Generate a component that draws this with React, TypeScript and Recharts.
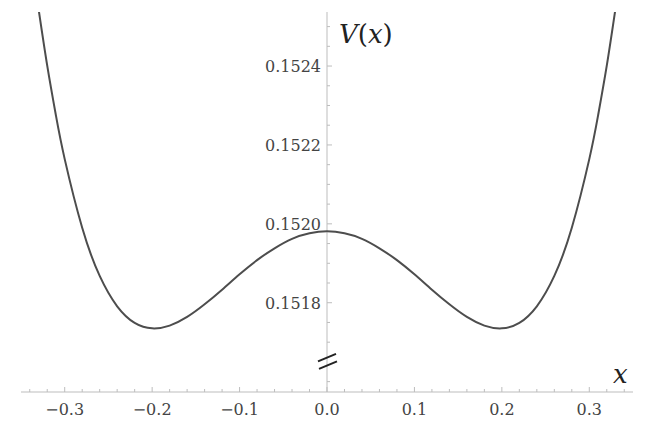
import { LineChart, Line, XAxis, YAxis, ReferenceLine, ReferenceDot } from "recharts";

// curve V(x)
const xPoints = [
  -0.33, -0.32, -0.31, -0.3, -0.28, -0.26, -0.24, -0.22, -0.2, -0.18, -0.16,
  -0.14, -0.12, -0.1, -0.08, -0.06, -0.04, -0.02, 0, 0.02, 0.04, 0.06, 0.08,
  0.1, 0.12, 0.14, 0.16, 0.18, 0.2, 0.22, 0.24, 0.26, 0.28, 0.3, 0.31, 0.32,
  0.33,
];
const vPoints = [
  0.152546, 0.152401, 0.152274, 0.152164, 0.15199, 0.151868, 0.151791,
  0.151749, 0.151735, 0.151742, 0.151764, 0.151796, 0.151833, 0.151872,
  0.151908, 0.151938, 0.151962, 0.151976, 0.151981, 0.151976, 0.151962,
  0.151938, 0.151908, 0.151872, 0.151833, 0.151796, 0.151764, 0.151742,
  0.151735, 0.151749, 0.151791, 0.151868, 0.15199, 0.152164, 0.152274,
  0.152401, 0.152546,
];

const xTicks = [
  -0.34, -0.32, -0.3, -0.28, -0.26, -0.24, -0.22, -0.2, -0.18, -0.16, -0.14,
  -0.12, -0.1, -0.08, -0.06, -0.04, -0.02, 0, 0.02, 0.04, 0.06, 0.08, 0.1,
  0.12, 0.14, 0.16, 0.18, 0.2, 0.22, 0.24, 0.26, 0.28, 0.3, 0.32, 0.34,
];
const xLabels = [-0.3, -0.2, -0.1, 0, 0.1, 0.2, 0.3];
const yTicks = [
  0.1516, 0.1517, 0.15175, 0.1518, 0.15185, 0.1519, 0.15195, 0.152, 0.15205,
  0.1521, 0.15215, 0.1522, 0.15225, 0.1523, 0.15235, 0.1524, 0.15245, 0.1525,
];
const yLabels = [0.1518, 0.152, 0.1522, 0.1524];
const breakAt = 0.15165;

const X_DOMAIN: [number, number] = [-0.35, 0.35];
const Y_DOMAIN: [number, number] = [0.1515737, 0.152537];

const W = 654;
const H = 428;
const Y_W = 1;
const margin = { top: 12, right: 21, left: 20, bottom: 6 };
const plotLeft = margin.left + Y_W;
const plotW = W - plotLeft - margin.right;
const axisX = plotLeft + (plotW * (0 - X_DOMAIN[0])) / (X_DOMAIN[1] - X_DOMAIN[0]);

const AXIS = "#bdbdbd";
const TEXT = "#444";
const FONT = "'DejaVu Serif', 'Liberation Serif', serif";

const data = xPoints.map((x, i) => ({ x, v: vPoints[i] }));

const near = (list: number[], v: number) => list.some((t) => Math.abs(t - v) < 1e-7);

const fmtX = (v: number) => (Math.abs(v) < 1e-9 ? "0.0" : (v < 0 ? "\u2212" : "") + Math.abs(v).toFixed(1));

function XTick(props: any) {
  const { x, y, payload } = props;
  const major = near(xLabels, payload.value);
  return (
    <g>
      <line x1={x} x2={x} y1={y} y2={y - (major ? 5 : 3)} stroke={AXIS} />
      {major && (
        <text x={x} y={y + 23} textAnchor="middle" fill={TEXT} style={{ fontSize: 16, fontFamily: FONT }}>
          {fmtX(payload.value)}
        </text>
      )}
    </g>
  );
}

function YTick(props: any) {
  const { y, payload } = props;
  const major = near(yLabels, payload.value);
  return (
    <g>
      <line x1={axisX} x2={axisX + (major ? 5 : 3)} y1={y} y2={y} stroke={AXIS} />
      {major && (
        <text x={axisX - 6} y={y + 6} textAnchor="end" fill={TEXT} style={{ fontSize: 16, fontFamily: FONT }}>
          {payload.value.toFixed(4)}
        </text>
      )}
    </g>
  );
}

export default function App() {
  return (
    <div style={{ position: "absolute", left: 0, top: 0, background: "#fff" }}>
      <LineChart width={W} height={H} data={data} margin={margin}>
        <XAxis
          dataKey="x"
          type="number"
          domain={X_DOMAIN}
          allowDataOverflow
          ticks={xTicks}
          interval={0}
          tickSize={0}
          tickMargin={0}
          height={30}
          stroke={AXIS}
          tick={<XTick />}
        />
        <YAxis
          type="number"
          domain={Y_DOMAIN}
          allowDataOverflow
          ticks={yTicks}
          interval={0}
          width={Y_W}
          tickSize={0}
          tickMargin={0}
          axisLine={false}
          tickLine={false}
          tick={<YTick />}
        />
        <ReferenceLine x={0} stroke={AXIS} strokeWidth={1} />
        <ReferenceDot
          x={0}
          y={breakAt}
          r={0}
          shape={(p: any) => (
            <g stroke="#222" strokeWidth={2}>
              <line x1={p.cx - 9} y1={p.cy - 0.5} x2={p.cx + 9} y2={p.cy - 8} />
              <line x1={p.cx - 8} y1={p.cy + 7} x2={p.cx + 10} y2={p.cy - 0.5} />
            </g>
          )}
        />
        <ReferenceDot
          x={0}
          y={Y_DOMAIN[1]}
          r={0}
          shape={(p: any) => (
            <text x={p.cx + 12} y={p.cy + 31} fill="#222" style={{ fontSize: 26, fontFamily: FONT }}>
              <tspan fontStyle="italic">V</tspan>
              <tspan>(</tspan>
              <tspan fontStyle="italic">x</tspan>
              <tspan>)</tspan>
            </text>
          )}
        />
        <ReferenceDot
          x={X_DOMAIN[1]}
          y={Y_DOMAIN[0]}
          r={0}
          shape={(p: any) => (
            <text x={p.cx - 20} y={p.cy - 9} fill="#222" style={{ fontSize: 26, fontStyle: "italic", fontFamily: FONT }}>
              x
            </text>
          )}
        />
        <Line
          type="natural"
          dataKey="v"
          stroke="#4d4d4d"
          strokeWidth={2}
          dot={false}
          isAnimationActive={false}
        />
      </LineChart>
    </div>
  );
}
